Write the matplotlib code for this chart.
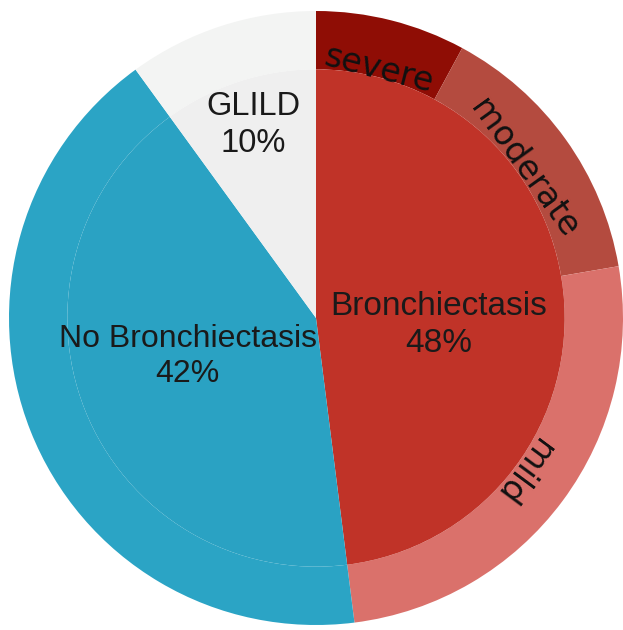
import numpy as np
import matplotlib
matplotlib.use("Agg")
import matplotlib.pyplot as plt

plt.rcParams['font.family'] = ['Liberation Sans', 'DejaVu Sans']

# inner pie: overall split of the cohort (%)
groups = ['Bronchiectasis', 'No Bronchiectasis', 'GLILD']
group_pct = [48, 42, 10]
group_colors = ['#c03328', '#2aa2c3', '#efefef']

# outer ring: bronchiectasis split by severity, the other groups carried over
severity = ['severe', 'moderate', 'mild']
severity_pct = [7.9, 14.4, 25.7]
severity_colors = ['#8f0d05', '#b44b3f', '#da716b']
outer_rest_colors = ['#2ba4c5', '#f3f4f3']

fig = plt.figure(figsize=(6.23, 6.30), dpi=100)
ax = fig.add_axes([0, 0, 1, 1])

outer_vals = severity_pct + group_pct[1:]
outer_cols = severity_colors + outer_rest_colors
outer_w, _ = ax.pie(outer_vals, colors=outer_cols, radius=1.0, startangle=90,
                    counterclock=False, wedgeprops=dict(width=0.19, linewidth=0))

inner_w, _ = ax.pie(group_pct, colors=group_colors, radius=0.81, startangle=90,
                    counterclock=False, wedgeprops=dict(linewidth=0))

# group labels inside the inner pie (distance from centre, vertical nudge)
label_pos = [(0.40, -0.048), (0.45, 0.04), (0.66, 0.0)]
label_size = [24, 23, 23.5]
for w, name, pct, (d, dy), fs in zip(inner_w, groups, group_pct, label_pos, label_size):
    mid = np.deg2rad((w.theta1 + w.theta2) / 2)
    ax.text(d * np.cos(mid), d * np.sin(mid) + dy, f'{name}\n{pct}%',
            ha='center', va='center', fontsize=fs, color='#1a1a1a',
            linespacing=1.25)

# severity labels along the ring
for w, name in zip(outer_w[:3], severity):
    mid_deg = (w.theta1 + w.theta2) / 2
    mid = np.deg2rad(mid_deg)
    ax.text(0.835 * np.cos(mid), 0.835 * np.sin(mid), name,
            rotation=mid_deg - 90, rotation_mode='anchor',
            ha='center', va='center', fontsize=24, color='#111111',
            family='DejaVu Sans')

ax.set_xlim(-316 / 307, 307 / 307)
ax.set_ylim(-312 / 307, 318 / 307)
ax.set_aspect('auto')
ax.axis('off')

fig.savefig('out.png', dpi=100, facecolor='white')
